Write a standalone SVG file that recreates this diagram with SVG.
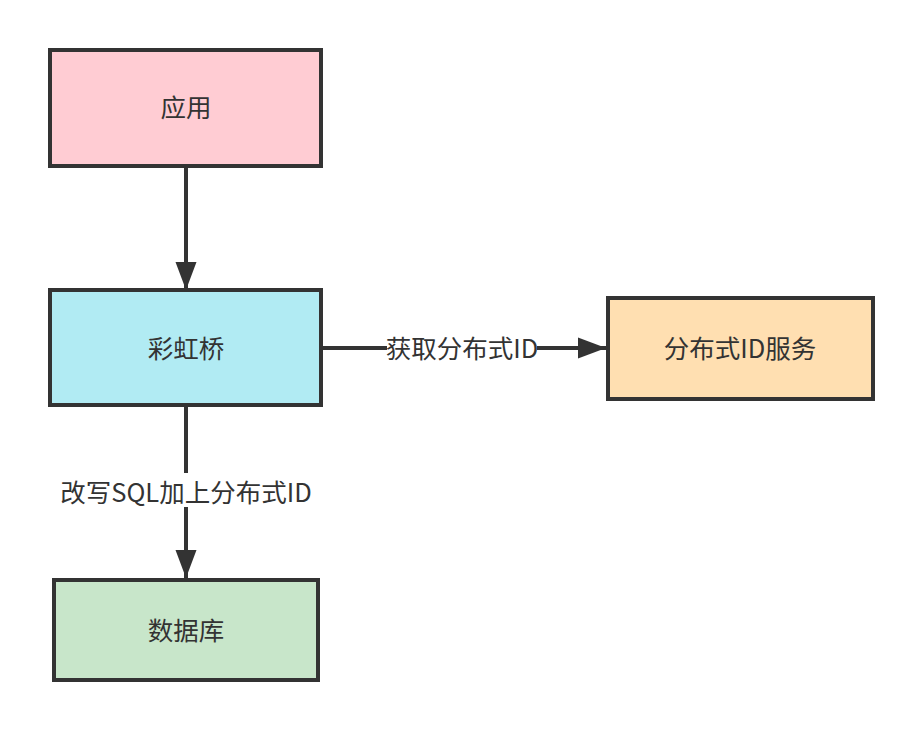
<svg xmlns="http://www.w3.org/2000/svg" width="923" height="731" viewBox="0 0 923 731">
<defs>
<style>
.box{stroke:#333333;stroke-width:4}
.t{font-family:"Noto Sans CJK SC","Liberation Sans",sans-serif;font-size:25.5px;fill:#333333;text-anchor:middle;dominant-baseline:central}
.edge{stroke:#333333;stroke-width:4;fill:none}
</style>
<marker id="arr" markerUnits="userSpaceOnUse" markerWidth="30" markerHeight="24" viewBox="0 0 30 24" refX="28" refY="12" orient="auto">
<path d="M0,1.5 L28,12 L0,22.5 Z" fill="#333333"/>
</marker>
</defs>
<rect width="923" height="731" fill="#ffffff"/>
<g id="connectors">
<line class="edge" x1="186" y1="168" x2="186" y2="290" marker-end="url(#arr)"/>
<line class="edge" x1="323" y1="348" x2="606" y2="348" marker-end="url(#arr)"/>
<line class="edge" x1="186" y1="407" x2="186" y2="578" marker-end="url(#arr)"/>
<rect x="387" y="333" width="150" height="30" fill="#ffffff"/>
<text class="t" x="462" y="346">获取分布式ID</text>
<rect x="58" y="473" width="256" height="34" fill="#ffffff"/>
<text class="t" x="186" y="490">改写SQL加上分布式ID</text>
</g>
<g id="app">
<rect class="box" x="50" y="50" width="271" height="116" fill="#ffccd3"/>
<text class="t" x="186" y="105">应用</text>
</g>
<g id="rainbow">
<rect class="box" x="50" y="290" width="271" height="115" fill="#b1ebf3"/>
<text class="t" x="186" y="346">彩虹桥</text>
</g>
<g id="idservice">
<rect class="box" x="608" y="298" width="265" height="101" fill="#ffdfb1"/>
<text class="t" x="740" y="346">分布式ID服务</text>
</g>
<g id="db">
<rect class="box" x="54" y="580" width="264" height="100" fill="#c8e6ca"/>
<text class="t" x="186" y="628">数据库</text>
</g>
</svg>
